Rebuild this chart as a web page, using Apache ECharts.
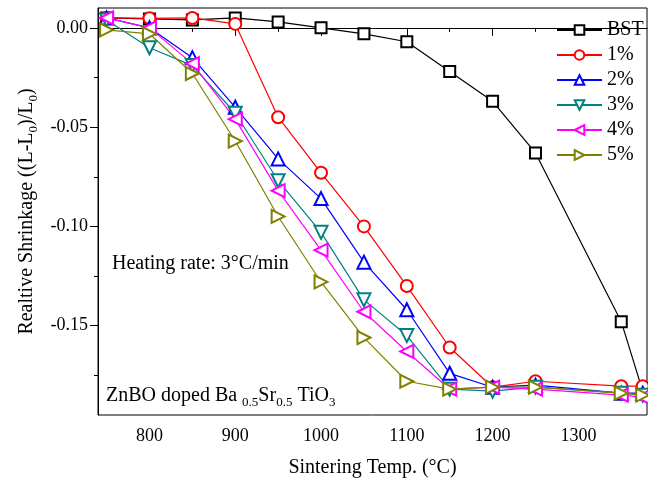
<!DOCTYPE html>
<html>
<head>
<meta charset="utf-8">
<script src="https://cdn.jsdelivr.net/npm/echarts@6/dist/echarts.min.js"></script>
<style>
  html, body { margin: 0; padding: 0; background: #fff; }
  #main { width: 648px; height: 485px; }
</style>
</head>
<body>
<div id="main"></div>
<script>
// sintering temperatures (°C)
var temps = [750, 800, 850, 900, 950, 1000, 1050, 1100, 1150, 1200, 1250, 1350, 1375];
var seriesNames = ['BST', '1%', '2%', '3%', '4%', '5%'];
var bst  = [0.005, 0.0045, 0.004, 0.005, 0.003, 0.000, -0.003, -0.007, -0.022, -0.037, -0.063, -0.148, -0.183];
var p1   = [0.005, 0.0048, 0.005, 0.002, -0.045, -0.073, -0.100, -0.130, -0.161, -0.181, -0.178, -0.1805, -0.1805];
var p2   = [0.005, 0.000, -0.015, -0.040, -0.066, -0.086, -0.118, -0.142, -0.174, -0.181, -0.180, -0.184, -0.184];
var p3   = [0.004, -0.010, -0.019, -0.043, -0.077, -0.103, -0.137, -0.155, -0.182, -0.183, -0.181, -0.184, -0.185];
var p4   = [0.005, 0.000, -0.018, -0.046, -0.082, -0.112, -0.143, -0.163, -0.182, -0.181, -0.182, -0.185, -0.186];
var p5   = [-0.001, -0.003, -0.023, -0.057, -0.095, -0.128, -0.156, -0.178, -0.182, -0.181, -0.181, -0.184, -0.185];

var xMajor = [800, 900, 1000, 1100, 1200, 1300];
var xMinor = [750, 850, 950, 1050, 1150, 1250, 1350];
var yMajor = [0, -0.05, -0.10, -0.15];
var yMinor = [-0.025, -0.075, -0.125, -0.175];

var serif = 'Liberation Serif';

function pairs(ys) {
    return temps.map(function (t, i) { return [t, ys[i]]; });
}

function makeSeries(name, ys, color, symbol, size, rotate) {
    return {
        name: name,
        type: 'line',
        data: pairs(ys),
        symbol: symbol,
        symbolSize: size,
        symbolRotate: rotate || 0,
        showAllSymbol: true,
        lineStyle: { color: color, width: 1.2 },
        itemStyle: { color: color, borderColor: color, borderWidth: 1.3 },
        emphasis: { disabled: true },
        z: 3
    };
}

var chart = echarts.init(document.getElementById('main'));
var option = {
    animation: false,
    backgroundColor: '#fff',
    grid: {
        left: 98, right: 1, top: 8, bottom: 70,
        show: true, borderColor: '#000', borderWidth: 1, backgroundColor: 'transparent'
    },
    legend: {
        data: seriesNames,
        orient: 'vertical',
        left: 551,
        top: 15,
        itemWidth: 45,
        itemHeight: 12,
        itemGap: 5,
        textStyle: { fontFamily: serif, fontSize: 20, color: '#000' }
    },
    xAxis: [
        {
            type: 'value', min: 740, max: 1380, position: 'bottom',
            name: 'Sintering Temp. (°C)', nameLocation: 'middle', nameGap: 43,
            nameTextStyle: { fontFamily: serif, fontSize: 20, color: '#000' },
            axisLine: { lineStyle: { color: '#000', width: 1 } },
            axisTick: { customValues: xMajor, length: 8, lineStyle: { color: '#000' } },
            axisLabel: {
                customValues: xMajor, fontFamily: serif, fontSize: 18, color: '#000', margin: 12,
                formatter: function (v) { return String(v); }
            },
            splitLine: { show: false }
        },
        {
            type: 'value', min: 740, max: 1380, position: 'bottom',
            axisLine: { show: false },
            axisTick: { customValues: xMinor, length: 4, lineStyle: { color: '#000' } },
            axisLabel: { show: false },
            splitLine: { show: false }
        }
    ],
    yAxis: [
        {
            type: 'value', min: -0.195, max: 0.01, position: 'left',
            name: '{n|Realtive Shrinkage ((L-L}{s|0}{n|)/L}{s|0}{n|)}',
            nameLocation: 'middle', nameRotate: 90, nameGap: 58,
            nameTextStyle: {
                rich: {
                    n: { fontFamily: serif, fontSize: 20, color: '#000', verticalAlign: 'top', lineHeight: 22 },
                    s: { fontFamily: serif, fontSize: 13, color: '#000', verticalAlign: 'top', lineHeight: 14, padding: [10, 0, 0, 0] }
                }
            },
            axisLine: { lineStyle: { color: '#000', width: 1 } },
            axisTick: { customValues: yMajor, length: 8, lineStyle: { color: '#000' } },
            axisLabel: {
                customValues: yMajor, fontFamily: serif, fontSize: 18, color: '#000', margin: 10,
                formatter: function (v) { return (Math.abs(v) < 1e-9 ? 0 : v).toFixed(2); }
            },
            splitLine: { show: false }
        },
        {
            type: 'value', min: -0.195, max: 0.01, position: 'left',
            axisLine: { show: false },
            axisTick: { customValues: yMinor, length: 4, lineStyle: { color: '#000' } },
            axisLabel: { show: false },
            splitLine: { show: false }
        }
    ],
    graphic: [
        {
            type: 'text', left: 112, top: 254,
            style: { text: 'Heating rate: 3°C/min', fontFamily: serif, fontSize: 20, fill: '#000' }
        },
        {
            type: 'text', left: 106, top: 386,
            style: {
                text: '{n|ZnBO doped Ba }{s|0.5}{n|Sr}{s|0.5}{n| TiO}{s|3}',
                rich: {
                    n: { fontFamily: serif, fontSize: 20, fill: '#000', verticalAlign: 'top', lineHeight: 22 },
                    s: { fontFamily: serif, fontSize: 13, fill: '#000', verticalAlign: 'top', lineHeight: 14, padding: [10, 0, 0, 0] }
                }
            }
        }
    ],
    series: [
        makeSeries('BST', bst, '#000000', 'emptyRect', 11),
        makeSeries('1%', p1, '#ff0000', 'emptyCircle', 12),
        makeSeries('2%', p2, '#0000ff', 'emptyTriangle', 13),
        makeSeries('3%', p3, '#008080', 'emptyTriangle', 13, 180),
        makeSeries('4%', p4, '#ff00ff', 'emptyTriangle', 13, 90),
        makeSeries('5%', p5, '#808000', 'emptyTriangle', 13, -90)
    ]
};
chart.setOption(option);
</script>
</body>
</html>
